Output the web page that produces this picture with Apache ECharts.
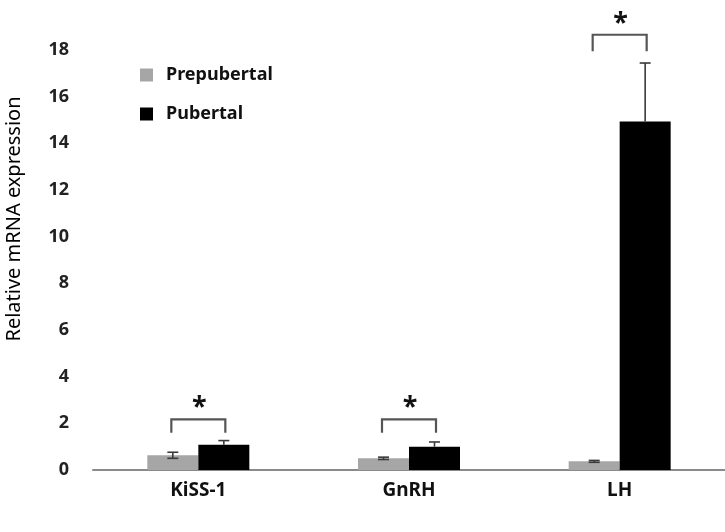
<!DOCTYPE html>
<html>
<head>
<meta charset="utf-8">
<script src="https://cdn.jsdelivr.net/npm/echarts@6/dist/echarts.min.js"></script>
<style>
	html, body { margin: 0; padding: 0; background: #fff; }
	#chart { width: 725px; height: 532px; }
</style>
</head>
<body>
<div id="chart"></div>
<script>
// values
const categories = ['KiSS-1', 'GnRH', 'LH']
const prepubertal = [0.63, 0.5, 0.37]
const pubertal = [1.08, 1.0, 14.93]
const prepubertalErr = [0.13, 0.05, 0.04]
const pubertalErr = [0.18, 0.2, 2.5]
// significance brackets: [top, leg bottom, star]
const bracketTop = [2.17, 2.17, 18.64]
const bracketBottom = [1.6, 1.6, 17.93]
const starLevel = [2.87, 2.87, 19.29]
const yTicks = [0, 2, 4, 6, 8, 10, 12, 14, 16, 18]

const FONT = 'Noto Sans'
const BAR_W = 51

const chart = echarts.init(document.getElementById('chart'))

// error bar items: [category index, mean, err, side]  side -1 = prepubertal, 1 = pubertal
const errData = []
categories.forEach((c, i) => {
	errData.push([i, prepubertal[i], prepubertalErr[i], -1])
	errData.push([i, pubertal[i], pubertalErr[i], 1])
})

const renderErr = (params, api) => {
	const side = api.value(3)
	const mean = api.value(1)
	const err = api.value(2)
	const dx = side * BAR_W / 2
	const top = api.coord([api.value(0), mean + err])
	const mid = api.coord([api.value(0), mean])
	const bot = api.coord([api.value(0), mean - err])
	const x = top[0] + dx
	const half = 5.5
	const style = { stroke: '#3a3a3a', lineWidth: 1.6 }
	const lowY = side < 0 ? bot[1] : mid[1]
	const children = [
		{ type: 'line', shape: { x1: x, y1: top[1], x2: x, y2: lowY }, style },
		{ type: 'line', shape: { x1: x - half, y1: top[1], x2: x + half, y2: top[1] }, style },
	]
	if (side < 0) {
		children.push({ type: 'line', shape: { x1: x - half, y1: bot[1], x2: x + half, y2: bot[1] }, style })
	}
	return { type: 'group', children }
}

const bracketData = categories.map((c, i) => [i, bracketTop[i], bracketBottom[i], starLevel[i]])

const renderBracket = (params, api) => {
	const i = api.value(0)
	const top = api.coord([i, api.value(1)])
	const bot = api.coord([i, api.value(2)])
	const star = api.coord([i, api.value(3)])
	const xl = top[0] - 27
	const xr = top[0] + 27
	return {
		type: 'group',
		children: [
			{
				type: 'polyline',
				shape: { points: [[xl, bot[1]], [xl, top[1]], [xr, top[1]], [xr, bot[1]]] },
				style: { stroke: '#555', lineWidth: 2.2, fill: null },
			},
			{
				type: 'text',
				x: top[0] + 1,
				y: star[1] + 5,
				style: {
					text: '*',
					fill: '#111',
					font: 'bold 27px ' + FONT,
					align: 'center',
					verticalAlign: 'middle',
				},
			},
		],
	}
}

const option = {
	animation: false,
	backgroundColor: '#fff',
	grid: { left: 93, right: 0, top: 3, bottom: 62 },
	legend: {
		orient: 'vertical',
		left: 135,
		top: 61,
		itemGap: 21,
		itemWidth: 13,
		itemHeight: 13,
		icon: 'rect',
		data: ['Prepubertal', 'Pubertal'],
		textStyle: { fontFamily: FONT, fontSize: 18, fontWeight: 'bold', color: '#111', padding: [0, 0, 0, 8] },
	},
	xAxis: {
		type: 'category',
		data: categories,
		axisLine: { lineStyle: { color: '#8a8a8a', width: 2 } },
		axisTick: { show: false },
		axisLabel: { margin: 11, fontFamily: FONT, fontSize: 19, fontWeight: 'bold', color: '#111' },
	},
	yAxis: {
		type: 'value',
		min: 0,
		max: 20,
		interval: 2,
		axisLine: { show: false },
		axisTick: { show: false },
		splitLine: { show: false },
		axisLabel: {
			margin: 24,
			fontFamily: FONT,
			fontSize: 18,
			fontWeight: 'bold',
			color: '#222',
			formatter: v => (yTicks.includes(v) ? String(v) : ''),
		},
	},
	graphic: [
		{
			type: 'text',
			x: 14,
			y: 219,
			rotation: Math.PI / 2,
			style: {
				text: 'Relative mRNA expression',
				font: '20px ' + FONT,
				fill: '#000',
				align: 'center',
				verticalAlign: 'middle',
			},
		},
	],
	series: [
		{
			name: 'Prepubertal',
			type: 'bar',
			data: prepubertal,
			barWidth: BAR_W,
			barGap: '0%',
			itemStyle: { color: '#a6a6a6' },
		},
		{
			name: 'Pubertal',
			type: 'bar',
			data: pubertal,
			barWidth: BAR_W,
			barGap: '0%',
			itemStyle: { color: '#000' },
		},
		{
			type: 'custom',
			data: errData,
			renderItem: renderErr,
			z: 5,
			silent: true,
		},
		{
			type: 'custom',
			data: bracketData,
			renderItem: renderBracket,
			z: 5,
			silent: true,
			clip: false,
		},
	],
}
chart.setOption(option)
</script>
</body>
</html>
